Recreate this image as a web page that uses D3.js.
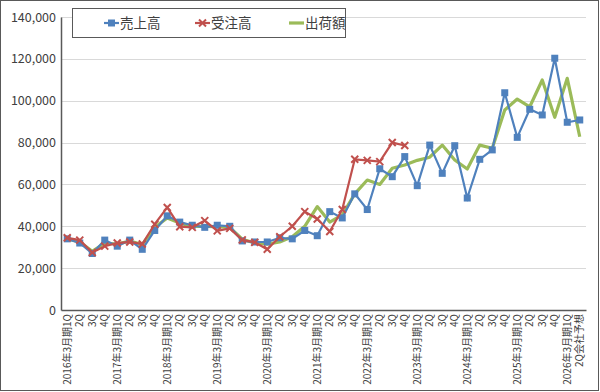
<!DOCTYPE html>
<html><head><meta charset="utf-8">
<script src="https://cdn.jsdelivr.net/npm/d3@7"></script>
<style>
body{margin:0;background:#fff;}
text{font-family:"Noto Sans CJK JP","Noto Sans",sans-serif;}
</style></head>
<body><svg id="c" width="600" height="392"></svg>
<script>
const years = [2016,2017,2018,2019,2020,2021,2022,2023,2024,2025];
const categories = [];
years.forEach(y => ["1Q","2Q","3Q","4Q"].forEach((q,k) => categories.push(k===0 ? y+"年3月期1Q" : q)));
categories.push("2026年3月期1Q");
categories.push("2Q会社予想");

const sales = [34000,32000,27000,33400,30500,33400,29000,38000,45000,42000,
  40500,39500,40500,40000,33000,32500,32500,34500,34000,38000,
  35500,47000,44000,55500,48000,67500,63700,73300,59400,78800,
  65300,78500,53500,72000,76500,103800,82500,95900,93200,120300,
  89700,90800];
const orders = [34500,33400,27500,30500,32000,32500,31500,41000,49000,39800,
  39500,42700,37800,39000,33500,32300,29000,35000,40000,47000,
  43500,37500,48000,72000,71500,70900,80000,78600];
const shipments = [34000,32500,28000,32000,31500,33000,31300,39500,44000,41500,
  40000,40000,39800,39500,33800,32000,31500,32500,35000,40000,
  49400,42000,45400,55500,62100,60000,67700,69300,71500,73000,
  78800,71700,67400,78800,77300,95600,100800,97100,109900,92100,
  110700,82800];
const yTicks = [0,20000,40000,60000,80000,100000,120000,140000];
const seriesNames = ["売上高","受注高","出荷額"];
const colors = ["#4F81BD","#C0504D","#9BBB59"];

const svg = d3.select("#c");
svg.append("rect").attr("x",0.5).attr("y",0.5).attr("width",598).attr("height",390)
  .attr("fill","#fff").attr("stroke","#595959").attr("stroke-width",1);

const L=61, R=586, T=17, B=310;
const x = d3.scaleBand().domain(d3.range(categories.length)).range([L,R]);
const y = d3.scaleLinear().domain([0,140000]).range([B,T]);
const cx = i => x(i) + x.bandwidth()/2;

// gridlines
svg.append("g").selectAll("line").data(yTicks.slice(1)).join("line")
  .attr("x1",L).attr("x2",R).attr("y1",d=>Math.round(y(d))+0.5).attr("y2",d=>Math.round(y(d))+0.5)
  .attr("stroke","#d9d9d9").attr("stroke-width",1);

// y axis
const ya = svg.append("g").attr("transform",`translate(${L},0)`)
  .call(d3.axisLeft(y).tickValues(yTicks).tickFormat(d3.format(",")).tickSize(0).tickPadding(5));
ya.select(".domain").attr("stroke","#595959").attr("stroke-width",1.5);
ya.selectAll("text").attr("font-size",12.5).attr("fill","#404040");

// x axis
const xa = svg.append("g").attr("transform",`translate(0,${B})`)
  .call(d3.axisBottom(x).tickFormat(i=>categories[i]).tickSize(0).tickPadding(0));
xa.select(".domain").attr("stroke","#595959").attr("stroke-width",1.5);
xa.selectAll("text").attr("font-size",10).attr("fill","#404040")
  .attr("transform","rotate(-90)").attr("text-anchor","end")
  .attr("dy","0.35em").attr("x",-4).attr("y",0);

const line = d3.line().x((d,i)=>cx(i)).y(d=>y(d));

// green
svg.append("path").datum(shipments).attr("d",line).attr("fill","none")
  .attr("stroke",colors[2]).attr("stroke-width",3.2).attr("stroke-linejoin","round");
// blue
svg.append("path").datum(sales).attr("d",line).attr("fill","none")
  .attr("stroke",colors[0]).attr("stroke-width",2.2);
svg.append("g").selectAll("rect").data(sales).join("rect")
  .attr("x",(d,i)=>cx(i)-3.5).attr("y",d=>y(d)-3.5).attr("width",7).attr("height",7)
  .attr("fill",colors[0]);
// red
svg.append("path").datum(orders).attr("d",line).attr("fill","none")
  .attr("stroke",colors[1]).attr("stroke-width",2.2);
svg.append("g").selectAll("path").data(orders).join("path")
  .attr("d",(d,i)=>{const a=cx(i),b=y(d),s=3.5;return `M${a-s},${b-s}L${a+s},${b+s}M${a-s},${b+s}L${a+s},${b-s}`;})
  .attr("stroke",colors[1]).attr("stroke-width",2).attr("fill","none");

// legend
const lg = svg.append("g");
lg.append("rect").attr("x",72.5).attr("y",8.5).attr("width",273).attr("height",29)
  .attr("fill","#fff").attr("stroke","#595959").attr("stroke-width",1);
const lx = [104,195,289];
seriesNames.forEach((n,k)=>{
  const g = lg.append("g").attr("transform",`translate(${lx[k]},23)`);
  g.append("line").attr("x1",0).attr("x2",15).attr("y1",0).attr("y2",0)
    .attr("stroke",colors[k]).attr("stroke-width",k===2?3.2:2.2);
  if(k===0) g.append("rect").attr("x",4).attr("y",-3.5).attr("width",7).attr("height",7).attr("fill",colors[0]);
  if(k===1) g.append("path").attr("d","M4,-3.5L11,3.5M4,3.5L11,-3.5").attr("stroke",colors[1]).attr("stroke-width",2);
  g.append("text").attr("x",16).attr("y",0).attr("dy","0.36em").attr("font-size",13.5)
    .attr("fill","#404040").text(n);
});
</script></body></html>
